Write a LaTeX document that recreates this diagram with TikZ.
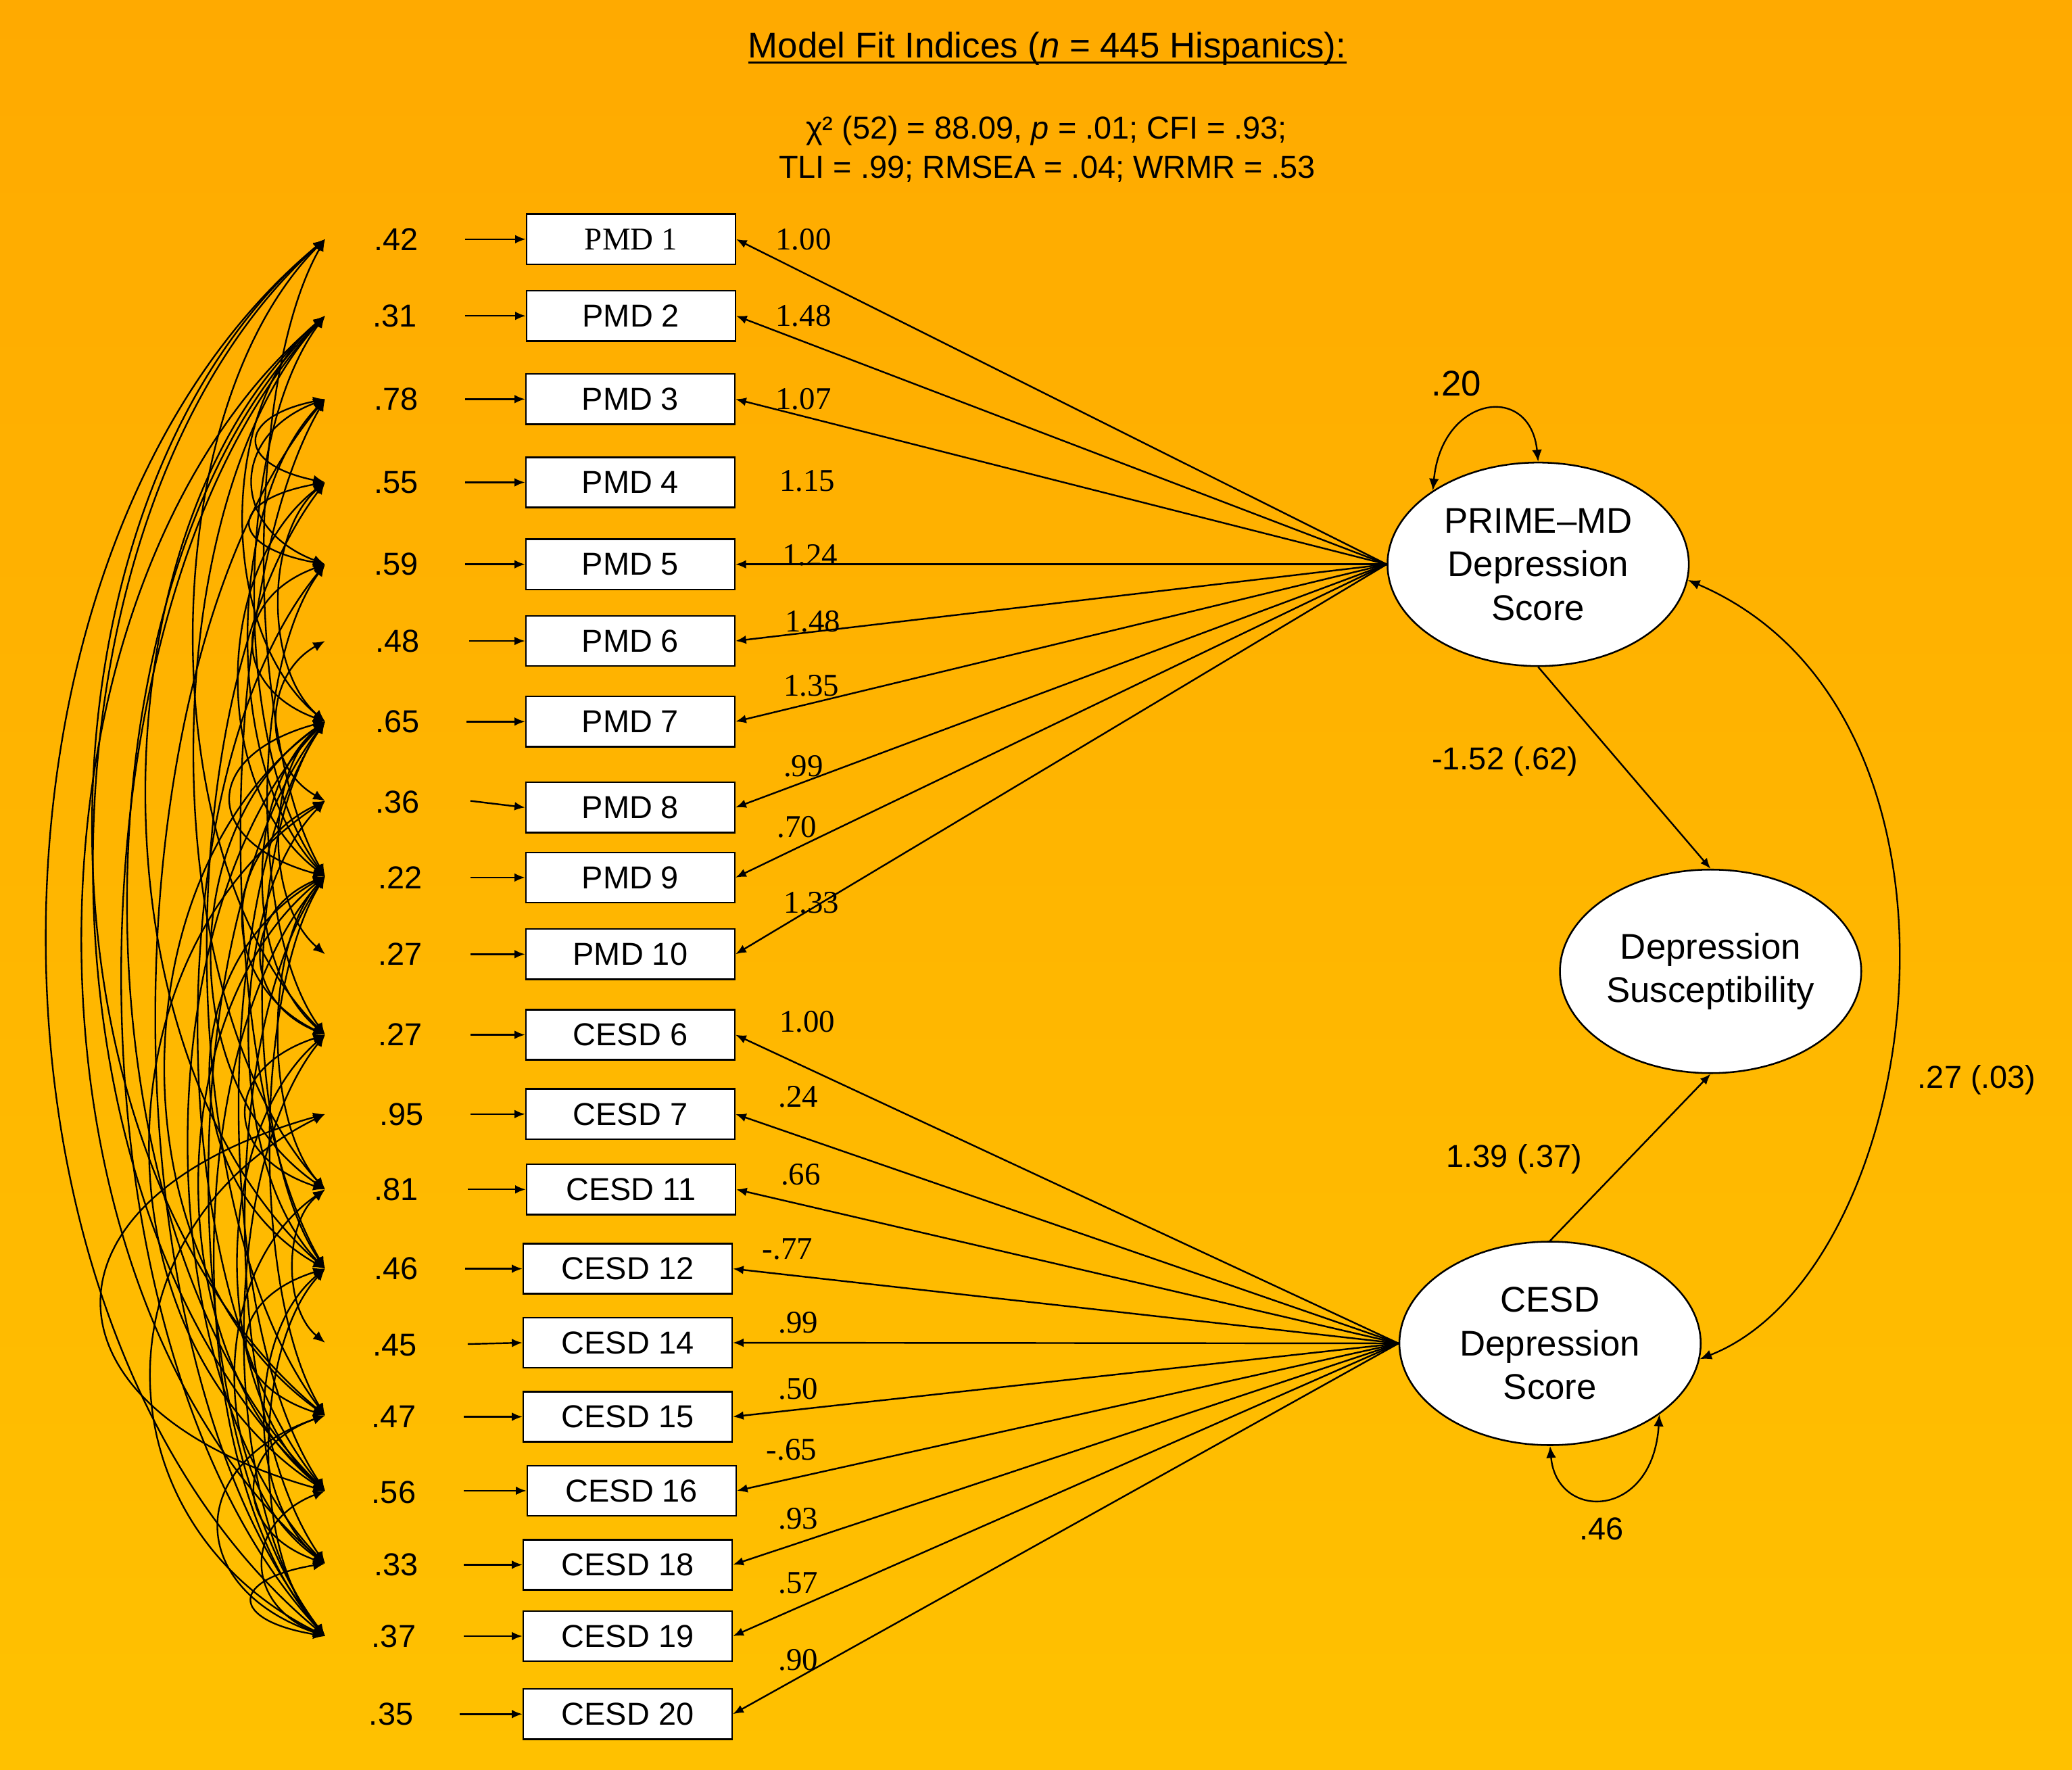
\documentclass[tikz,border=0pt]{standalone}
\usepackage{fontspec}
\setmainfont{Liberation Sans}
\newfontfamily\tnr{Liberation Serif}
\usetikzlibrary{arrows.meta,shapes.geometric,calc}
\definecolor{bgtop}{RGB}{255,170,0}
\definecolor{bgbot}{RGB}{255,193,0}
% let-values carry pt units, so the control offsets below are in canvas orientation (y up)
\newcommand{\cv}[3]{\draw[cov] let \p1=(e#1), \p2=(e#2), \n1={abs(\y1-\y2)}, \n2={#3*(55+0.2*\n1)}, \n3={0.22*\n1} in (e#1) .. controls +(-\n2,-\n3) and +(-\n2,\n3) .. (e#2);}
\begin{document}
\begin{tikzpicture}[x=1pt,y=-1pt,
  box/.style={draw, fill=white, line width=1.3pt, minimum width=158pt, minimum height=38pt, inner sep=0pt, font=\fontsize{24}{28}\selectfont},
  lat/.style={ellipse, draw, fill=white, line width=1.3pt, minimum width=228pt, minimum height=154pt, inner sep=0pt, align=center, font=\fontsize{27}{33}\selectfont},
  lbl/.style={font=\fontsize{24}{28}\selectfont, inner sep=0pt},
  ld/.style={font=\tnr\fontsize{24}{28}\selectfont, inner sep=0pt},
  pth/.style={line width=1.25pt, -{Latex[length=8pt,width=6.5pt]}},
  cov/.style={line width=1.2pt, {Latex[length=9pt,width=7.5pt]}-{Latex[length=9pt,width=7.5pt]}}
]
\useasboundingbox (0,0) rectangle (1568,1339);
\shade[top color=bgtop, bottom color=bgbot] (0,0) rectangle (1568,1339);

% title
\node[inner sep=0pt, anchor=base, font=\fontsize{27}{32}\selectfont] (title) at (792.5,43.5) {Model Fit Indices (\textit{n} = 445 Hispanics):};
\draw[line width=1.6pt] ([yshift=-4pt]title.base west) -- ([yshift=-4pt]title.base east);
\node[lbl, anchor=base] (fit1) at (792,105) {χ² (52) = 88.09, \textit{p} = .01; CFI = .93;};
\node[lbl, anchor=base] (fit2) at (792.5,135) {TLI = .99; RMSEA = .04; WRMR = .53};

% observed boxes
\node[box] (b1) at (477.5,181) {\tnr PMD 1};
\node[box] (b2) at (477.5,239) {PMD 2};
\node[box] (b3) at (477,302) {PMD 3};
\node[box] (b4) at (477,365) {PMD 4};
\node[box] (b5) at (477,427) {PMD 5};
\node[box] (b6) at (477,485) {PMD 6};
\node[box] (b7) at (477,546) {PMD 7};
\node[box] (b8) at (477,611) {PMD 8};
\node[box] (b9) at (477,664) {PMD 9};
\node[box] (b10) at (477,722) {PMD 10};
\node[box] (b11) at (477,783) {CESD 6};
\node[box] (b12) at (477,843) {CESD 7};
\node[box] (b13) at (477.5,900) {CESD 11};
\node[box] (b14) at (475,960) {CESD 12};
\node[box] (b15) at (475,1016) {CESD 14};
\node[box] (b16) at (475,1072) {CESD 15};
\node[box] (b17) at (478,1128) {CESD 16};
\node[box] (b18) at (475,1184) {CESD 18};
\node[box] (b19) at (475,1238) {CESD 19};
\node[box] (b20) at (475,1297) {CESD 20};

% residual labels
\node[lbl] (v1) at (300,181) {.42};
\node[lbl] (v2) at (299,239) {.31};
\node[lbl] (v3) at (300,302) {.78};
\node[lbl] (v4) at (300,365) {.55};
\node[lbl] (v5) at (300,427) {.59};
\node[lbl] (v6) at (301,485) {.48};
\node[lbl] (v7) at (301,546) {.65};
\node[lbl] (v8) at (301,607) {.36};
\node[lbl] (v9) at (303,664) {.22};
\node[lbl] (v10) at (303,722) {.27};
\node[lbl] (v11) at (303,783) {.27};
\node[lbl] (v12) at (304,843) {.95};
\node[lbl] (v13) at (300,900) {.81};
\node[lbl] (v14) at (300,960) {.46};
\node[lbl] (v15) at (299,1018) {.45};
\node[lbl] (v16) at (298,1072) {.47};
\node[lbl] (v17) at (298,1129) {.56};
\node[lbl] (v18) at (300,1184) {.33};
\node[lbl] (v19) at (298,1238) {.37};
\node[lbl] (v20) at (296,1297) {.35};

% residual arrows
\foreach \i/\y/\x in {1/181/352,2/239/352,3/302/352,4/365/352,5/427/352,6/485/355,7/546/353,8/606/356,9/664/356,10/722/356,11/783/356,12/843/356,13/900/354,14/960/352,15/1017/354,16/1072/351,17/1128/351,18/1184/351,19/1238/351,20/1297/348}{
  \coordinate (s\i) at (\x,\y);
  \draw[pth] (s\i) -- (b\i.west);
}

% covariance anchor points
\foreach \i/\y in {1/181,2/239,3/302,4/365,5/427,6/485,7/546,8/606,9/663,10/722,11/783,12/843,13/900,14/960,15/1016,16/1071,17/1128,18/1183,19/1238}{
  \coordinate (e\i) at (246,\y);
}

% correlated residuals
\cv{1}{9}{0.4}
\cv{1}{11}{0.75}
\cv{1}{16}{1.0}
\cv{1}{17}{0.95}
\cv{1}{19}{1.05}
\cv{2}{7}{0.7}
\cv{2}{9}{0.5}
\cv{2}{13}{0.7}
\cv{2}{14}{0.9}
\cv{2}{17}{0.85}
\cv{2}{18}{1.0}
\cv{2}{19}{0.8}
\cv{3}{4}{1.0}
\cv{3}{5}{0.9}
\cv{3}{9}{0.6}
\cv{3}{14}{0.45}
\cv{3}{19}{0.7}
\cv{4}{5}{1.1}
\cv{4}{7}{0.5}
\cv{4}{9}{0.75}
\cv{4}{16}{0.6}
\cv{5}{7}{0.9}
\cv{5}{11}{0.45}
\cv{5}{17}{0.65}
\cv{6}{8}{0.6}
\cv{7}{9}{1.2}
\cv{7}{10}{0.5}
\cv{7}{11}{0.6}
\cv{7}{13}{0.9}
\cv{7}{14}{0.45}
\cv{7}{16}{1.0}
\cv{7}{17}{0.5}
\cv{7}{18}{0.75}
\cv{7}{19}{0.6}
\cv{8}{11}{0.9}
\cv{8}{14}{0.6}
\cv{8}{17}{1.1}
\cv{9}{11}{0.8}
\cv{9}{13}{0.45}
\cv{9}{14}{1.0}
\cv{9}{16}{0.4}
\cv{9}{17}{0.85}
\cv{9}{18}{0.5}
\cv{9}{19}{0.65}
\cv{11}{13}{1.0}
\cv{11}{17}{0.7}
\cv{11}{19}{0.55}
\cv{12}{17}{2.0}
\cv{12}{19}{1.3}
\cv{13}{15}{0.4}
\cv{13}{18}{0.8}
\cv{14}{16}{1.0}
\cv{14}{18}{0.6}
\cv{14}{19}{0.5}
\cv{16}{18}{0.9}
\cv{16}{19}{1.2}
\cv{17}{19}{0.8}
\cv{18}{19}{1.1}

% latent variables
\node[lat] (prime) at (1164,427) {PRIME–MD\\Depression\\Score};
\node[lat] (ds) at (1294.5,735) {Depression\\Susceptibility};
\node[lat] (cesd) at (1173,1016.5) {CESD\\Depression\\Score};

% loadings
\foreach \i in {1,2,3,5,6,7,8,9,10}{
  \draw[pth] (prime.west) -- (b\i.east);
}
\foreach \i in {11,12,13,14,15,16,17,18,19,20}{
  \draw[pth] (cesd.west) -- (b\i.east);
}

% loading labels
\node[ld] (l1) at (608,181) {1.00};
\node[ld] (l2) at (608,239) {1.48};
\node[ld] (l3) at (608,302) {1.07};
\node[ld] (l4) at (611,364) {1.15};
\node[ld] (l5) at (613,420) {1.24};
\node[ld] (l6) at (615,470) {1.48};
\node[ld] (l7) at (614,519) {1.35};
\node[ld] (l8) at (608,580) {.99};
\node[ld] (l9) at (603,626) {.70};
\node[ld] (l10) at (614,683) {1.33};
\node[ld] (l11) at (611,773) {1.00};
\node[ld] (l12) at (604,830) {.24};
\node[ld] (l13) at (606,889) {.66};
\node[ld] (l14) at (596,945) {-.77};
\node[ld] (l15) at (604,1001) {.99};
\node[ld] (l16) at (604,1051) {.50};
\node[ld] (l17) at (599,1097) {-.65};
\node[ld] (l18) at (604,1149) {.93};
\node[ld] (l19) at (604,1198) {.57};
\node[ld] (l20) at (604,1256) {.90};

% structural paths
\draw[pth] (prime.south) -- (ds.north);
\draw[pth] (cesd.north) -- (ds.south);
\node[lbl] (p1) at (1139,576) {-1.52 (.62)};
\node[lbl] (p2) at (1146,877) {1.39 (.37)};

% latent covariance
\draw[cov] (prime.-6) .. controls +(238,102) and +(171,-67) .. (cesd.-6);
\node[lbl] (c1) at (1496,817) {.27 (.03)};

% variances
\draw[cov] (prime.145) .. controls +(7,-72) and +(-6,-60) .. (prime.90);
\node[inner sep=0pt, font=\fontsize{27}{32}\selectfont] (var1) at (1102,290) {.20};
\draw[cov] (cesd.270) .. controls +(5,57) and +(-5,80) .. (cesd.-33);
\node[lbl] (var2) at (1212,1157) {.46};
\end{tikzpicture}
\end{document}
